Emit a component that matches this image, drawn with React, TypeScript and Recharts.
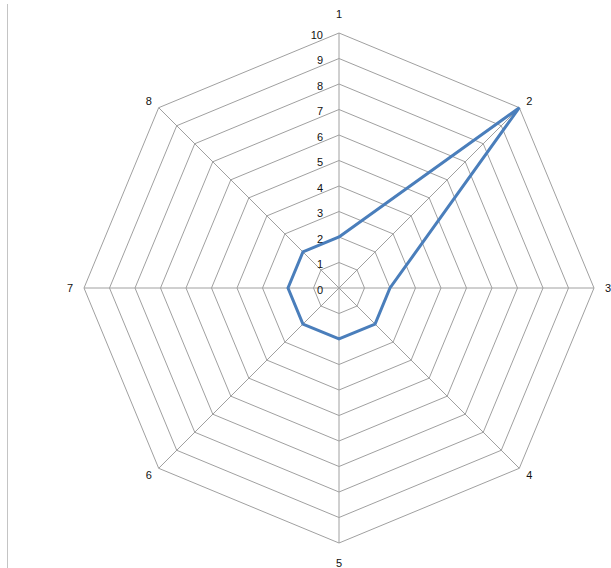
import React from 'react';
import {
  RadarChart,
  Radar,
  PolarGrid,
  PolarAngleAxis,
  PolarRadiusAxis
} from 'recharts';

const categories = ['1', '2', '3', '4', '5', '6', '7', '8'];
const seriesValues = [2, 10, 2, 2, 2, 2, 2, 2];
const radiusTicks = [0, 1, 2, 3, 4, 5, 6, 7, 8, 9, 10];

const data = categories.map((name, i) => ({ name, value: seriesValues[i] }));

const CX = 339;
const CY = 288;
const R = 255;
const FONT = '"Liberation Sans", Arial, sans-serif';

const AngleTick = ({ payload }: any) => {
  const rad = (payload.coordinate * Math.PI) / 180;
  const c = Math.cos(rad);
  const s = Math.sin(rad);
  const ax = CX + R * c;
  const ay = CY - R * s;
  const dx = 14 * c;
  const sg = Math.abs(s) < 0.01 ? 0 : Math.sign(s);
  const dy = -sg * (26 * s * s - 6.5);
  return (
    <text
      x={ax + dx}
      y={ay + dy}
      textAnchor="middle"
      dominantBaseline="central"
      fontSize={11}
      fontFamily={FONT}
      fill="#111"
    >
      {payload.value}
    </text>
  );
};

const RadiusTick = ({ x, y, payload }: any) => (
  <text
    x={x - 16}
    y={y + 1.5}
    textAnchor="end"
    dominantBaseline="central"
    fontSize={11}
    fontFamily={FONT}
    fill="#111"
  >
    {payload.value}
  </text>
);

export default function App() {
  return (
    <div style={{ position: 'absolute', left: 0, top: 0, width: 611, height: 568, background: '#fff' }}>
      <div
        style={{
          position: 'absolute',
          left: 7,
          top: 4,
          width: 1,
          height: 570,
          background: '#c4c4c4'
        }}
      />
      <RadarChart
        width={611}
        height={568}
        cx={CX}
        cy={CY}
        outerRadius={R}
        data={data}
        margin={{ top: 0, right: 0, bottom: 0, left: 0 }}
        style={{ position: 'absolute', left: 0, top: 0 }}
      >
        <PolarGrid gridType="polygon" stroke="#a0a0a0" strokeWidth={1} />
        <PolarAngleAxis
          dataKey="name"
          tick={<AngleTick />}
          tickLine={false}
          axisLine={false}
        />
        <PolarRadiusAxis
          angle={90}
          domain={[0, 10]}
          ticks={radiusTicks as any}
          tickCount={11}
          tick={<RadiusTick />}
          tickLine={false}
          axisLine={false}
        />
        <Radar
          dataKey="value"
          stroke="#4a7ebb"
          strokeWidth={3}
          fill="none"
          fillOpacity={0}
          dot={false}
          isAnimationActive={false}
        />
      </RadarChart>
    </div>
  );
}
